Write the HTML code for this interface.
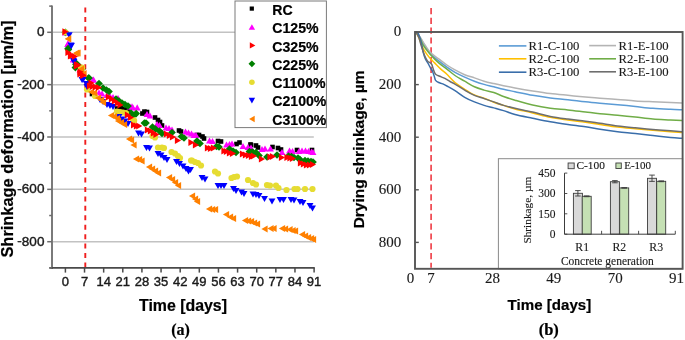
<!DOCTYPE html>
<html><head><meta charset="utf-8"><title>Shrinkage charts</title>
<style>
html,body{margin:0;padding:0;background:#fff;}
body{width:685px;height:340px;overflow:hidden;font-family:"Liberation Sans",sans-serif;}
svg{display:block;filter:blur(0.5px);}
text[font-family*="Sans"][fill="#1a1a1a"]{stroke:#1a1a1a;stroke-width:0.4px;}
text[font-family*="Serif"][fill="#1a1a1a"]{stroke:#1a1a1a;stroke-width:0.12px;}
text[fill="#000"]{stroke:#000;stroke-width:0.2px;}
</style></head><body>
<svg width="685" height="340" viewBox="0 0 685 340">
<rect width="685" height="340" fill="#fff"/>
<line x1="52.0" y1="32.30" x2="313.8" y2="32.30" stroke="#c2c2c2" stroke-width="1.5"/>
<line x1="52.0" y1="84.65" x2="313.8" y2="84.65" stroke="#c2c2c2" stroke-width="1.5"/>
<line x1="52.0" y1="137.00" x2="313.8" y2="137.00" stroke="#c2c2c2" stroke-width="1.5"/>
<line x1="52.0" y1="189.35" x2="313.8" y2="189.35" stroke="#c2c2c2" stroke-width="1.5"/>
<line x1="52.0" y1="241.70" x2="313.8" y2="241.70" stroke="#c2c2c2" stroke-width="1.5"/>
<line x1="85.3" y1="7.6" x2="85.3" y2="267.9" stroke="#f01e1e" stroke-width="1.9" stroke-dasharray="5 4.44"/>
<rect x="89.70" y="91.70" width="4.6" height="4.6" fill="#000000"/>
<rect x="114.70" y="106.20" width="4.6" height="4.6" fill="#000000"/>
<rect x="118.70" y="105.70" width="4.6" height="4.6" fill="#000000"/>
<rect x="121.70" y="106.70" width="4.6" height="4.6" fill="#000000"/>
<rect x="125.70" y="107.70" width="4.6" height="4.6" fill="#000000"/>
<rect x="140.10" y="111.20" width="4.6" height="4.6" fill="#000000"/>
<rect x="142.10" y="109.30" width="4.6" height="4.6" fill="#000000"/>
<rect x="144.70" y="109.70" width="4.6" height="4.6" fill="#000000"/>
<rect x="152.70" y="115.20" width="4.6" height="4.6" fill="#000000"/>
<rect x="155.70" y="117.70" width="4.6" height="4.6" fill="#000000"/>
<rect x="157.70" y="119.70" width="4.6" height="4.6" fill="#000000"/>
<rect x="159.70" y="123.20" width="4.6" height="4.6" fill="#000000"/>
<rect x="176.70" y="128.20" width="4.6" height="4.6" fill="#000000"/>
<rect x="178.70" y="129.20" width="4.6" height="4.6" fill="#000000"/>
<rect x="194.70" y="132.70" width="4.6" height="4.6" fill="#000000"/>
<rect x="196.70" y="132.70" width="4.6" height="4.6" fill="#000000"/>
<rect x="200.20" y="134.20" width="4.6" height="4.6" fill="#000000"/>
<rect x="201.70" y="136.20" width="4.6" height="4.6" fill="#000000"/>
<rect x="215.70" y="138.70" width="4.6" height="4.6" fill="#000000"/>
<rect x="218.70" y="139.20" width="4.6" height="4.6" fill="#000000"/>
<rect x="234.20" y="141.70" width="4.6" height="4.6" fill="#000000"/>
<rect x="237.20" y="140.20" width="4.6" height="4.6" fill="#000000"/>
<rect x="248.20" y="142.20" width="4.6" height="4.6" fill="#000000"/>
<rect x="248.70" y="142.70" width="4.6" height="4.6" fill="#000000"/>
<rect x="253.70" y="143.20" width="4.6" height="4.6" fill="#000000"/>
<rect x="255.70" y="145.20" width="4.6" height="4.6" fill="#000000"/>
<rect x="270.20" y="144.70" width="4.6" height="4.6" fill="#000000"/>
<rect x="275.70" y="145.70" width="4.6" height="4.6" fill="#000000"/>
<rect x="278.70" y="147.20" width="4.6" height="4.6" fill="#000000"/>
<rect x="294.70" y="147.70" width="4.6" height="4.6" fill="#000000"/>
<rect x="309.70" y="147.70" width="4.6" height="4.6" fill="#000000"/>
<path d="M61.95 35.40L68.85 35.40L65.40 29.20Z" fill="#ff00ff"/>
<path d="M64.65 46.50L71.55 46.50L68.10 40.30Z" fill="#ff00ff"/>
<path d="M70.05 62.10L76.95 62.10L73.50 55.90Z" fill="#ff00ff"/>
<path d="M77.05 72.10L83.95 72.10L80.50 65.90Z" fill="#ff00ff"/>
<path d="M90.05 82.60L96.95 82.60L93.50 76.40Z" fill="#ff00ff"/>
<path d="M95.55 95.60L102.45 95.60L99.00 89.40Z" fill="#ff00ff"/>
<path d="M98.55 96.60L105.45 96.60L102.00 90.40Z" fill="#ff00ff"/>
<path d="M103.55 98.10L110.45 98.10L107.00 91.90Z" fill="#ff00ff"/>
<path d="M106.55 99.10L113.45 99.10L110.00 92.90Z" fill="#ff00ff"/>
<path d="M109.55 100.10L116.45 100.10L113.00 93.90Z" fill="#ff00ff"/>
<path d="M114.55 101.10L121.45 101.10L118.00 94.90Z" fill="#ff00ff"/>
<path d="M126.55 109.60L133.45 109.60L130.00 103.40Z" fill="#ff00ff"/>
<path d="M129.55 110.60L136.45 110.60L133.00 104.40Z" fill="#ff00ff"/>
<path d="M128.55 109.40L135.45 109.40L132.00 103.20Z" fill="#ff00ff"/>
<path d="M133.75 110.50L140.65 110.50L137.20 104.30Z" fill="#ff00ff"/>
<path d="M143.55 117.10L150.45 117.10L147.00 110.90Z" fill="#ff00ff"/>
<path d="M146.55 118.60L153.45 118.60L150.00 112.40Z" fill="#ff00ff"/>
<path d="M153.55 127.10L160.45 127.10L157.00 120.90Z" fill="#ff00ff"/>
<path d="M156.05 128.10L162.95 128.10L159.50 121.90Z" fill="#ff00ff"/>
<path d="M162.55 130.60L169.45 130.60L166.00 124.40Z" fill="#ff00ff"/>
<path d="M165.55 131.10L172.45 131.10L169.00 124.90Z" fill="#ff00ff"/>
<path d="M168.55 132.60L175.45 132.60L172.00 126.40Z" fill="#ff00ff"/>
<path d="M182.05 134.60L188.95 134.60L185.50 128.40Z" fill="#ff00ff"/>
<path d="M185.05 135.60L191.95 135.60L188.50 129.40Z" fill="#ff00ff"/>
<path d="M188.05 136.60L194.95 136.60L191.50 130.40Z" fill="#ff00ff"/>
<path d="M190.55 138.10L197.45 138.10L194.00 131.90Z" fill="#ff00ff"/>
<path d="M192.55 138.10L199.45 138.10L196.00 131.90Z" fill="#ff00ff"/>
<path d="M206.05 143.60L212.95 143.60L209.50 137.40Z" fill="#ff00ff"/>
<path d="M209.05 144.10L215.95 144.10L212.50 137.90Z" fill="#ff00ff"/>
<path d="M223.05 147.60L229.95 147.60L226.50 141.40Z" fill="#ff00ff"/>
<path d="M226.05 147.10L232.95 147.10L229.50 140.90Z" fill="#ff00ff"/>
<path d="M228.55 146.60L235.45 146.60L232.00 140.40Z" fill="#ff00ff"/>
<path d="M239.55 149.10L246.45 149.10L243.00 142.90Z" fill="#ff00ff"/>
<path d="M244.55 150.10L251.45 150.10L248.00 143.90Z" fill="#ff00ff"/>
<path d="M247.55 150.60L254.45 150.60L251.00 144.40Z" fill="#ff00ff"/>
<path d="M258.55 152.10L265.45 152.10L262.00 145.90Z" fill="#ff00ff"/>
<path d="M261.55 151.60L268.45 151.60L265.00 145.40Z" fill="#ff00ff"/>
<path d="M267.05 151.60L273.95 151.60L270.50 145.40Z" fill="#ff00ff"/>
<path d="M278.55 155.10L285.45 155.10L282.00 148.90Z" fill="#ff00ff"/>
<path d="M286.05 153.60L292.95 153.60L289.50 147.40Z" fill="#ff00ff"/>
<path d="M289.05 154.10L295.95 154.10L292.50 147.90Z" fill="#ff00ff"/>
<path d="M295.55 154.10L302.45 154.10L299.00 147.90Z" fill="#ff00ff"/>
<path d="M298.55 153.60L305.45 153.60L302.00 147.40Z" fill="#ff00ff"/>
<path d="M302.05 153.60L308.95 153.60L305.50 147.40Z" fill="#ff00ff"/>
<path d="M305.05 154.10L311.95 154.10L308.50 147.90Z" fill="#ff00ff"/>
<path d="M308.05 154.60L314.95 154.60L311.50 148.40Z" fill="#ff00ff"/>
<path d="M309.55 155.10L316.45 155.10L313.00 148.90Z" fill="#ff00ff"/>
<path d="M70.05 62.60L76.95 62.60L73.50 56.40Z" fill="#ff00ff"/>
<path d="M76.55 72.60L83.45 72.60L80.00 66.40Z" fill="#ff00ff"/>
<path d="M89.55 82.60L96.45 82.60L93.00 76.40Z" fill="#ff00ff"/>
<path d="M64.25 46.90L71.15 46.90L67.70 40.70Z" fill="#ff00ff"/>
<path d="M65.40 28.45L69.25 32.30L65.40 36.15L61.55 32.30Z" fill="#008000"/>
<path d="M68.10 44.65L71.95 48.50L68.10 52.35L64.25 48.50Z" fill="#008000"/>
<path d="M75.40 63.75L79.25 67.60L75.40 71.45L71.55 67.60Z" fill="#008000"/>
<path d="M76.50 59.65L80.35 63.50L76.50 67.35L72.65 63.50Z" fill="#008000"/>
<path d="M82.00 65.15L85.85 69.00L82.00 72.85L78.15 69.00Z" fill="#008000"/>
<path d="M89.00 74.15L92.85 78.00L89.00 81.85L85.15 78.00Z" fill="#008000"/>
<path d="M99.00 79.65L102.85 83.50L99.00 87.35L95.15 83.50Z" fill="#008000"/>
<path d="M103.00 84.15L106.85 88.00L103.00 91.85L99.15 88.00Z" fill="#008000"/>
<path d="M106.50 86.15L110.35 90.00L106.50 93.85L102.65 90.00Z" fill="#008000"/>
<path d="M109.00 87.65L112.85 91.50L109.00 95.35L105.15 91.50Z" fill="#008000"/>
<path d="M116.00 95.15L119.85 99.00L116.00 102.85L112.15 99.00Z" fill="#008000"/>
<path d="M119.00 97.15L122.85 101.00L119.00 104.85L115.15 101.00Z" fill="#008000"/>
<path d="M122.00 99.15L125.85 103.00L122.00 106.85L118.15 103.00Z" fill="#008000"/>
<path d="M125.00 100.65L128.85 104.50L125.00 108.35L121.15 104.50Z" fill="#008000"/>
<path d="M128.00 102.15L131.85 106.00L128.00 109.85L124.15 106.00Z" fill="#008000"/>
<path d="M131.00 109.15L134.85 113.00L131.00 116.85L127.15 113.00Z" fill="#008000"/>
<path d="M134.00 111.15L137.85 115.00L134.00 118.85L130.15 115.00Z" fill="#008000"/>
<path d="M136.20 109.75L140.05 113.60L136.20 117.45L132.35 113.60Z" fill="#008000"/>
<path d="M144.40 119.15L148.25 123.00L144.40 126.85L140.55 123.00Z" fill="#008000"/>
<path d="M146.00 119.15L149.85 123.00L146.00 126.85L142.15 123.00Z" fill="#008000"/>
<path d="M152.50 123.15L156.35 127.00L152.50 130.85L148.65 127.00Z" fill="#008000"/>
<path d="M155.50 125.15L159.35 129.00L155.50 132.85L151.65 129.00Z" fill="#008000"/>
<path d="M159.50 127.15L163.35 131.00L159.50 134.85L155.65 131.00Z" fill="#008000"/>
<path d="M162.00 129.65L165.85 133.50L162.00 137.35L158.15 133.50Z" fill="#008000"/>
<path d="M172.00 128.65L175.85 132.50L172.00 136.35L168.15 132.50Z" fill="#008000"/>
<path d="M181.50 132.65L185.35 136.50L181.50 140.35L177.65 136.50Z" fill="#008000"/>
<path d="M184.00 134.15L187.85 138.00L184.00 141.85L180.15 138.00Z" fill="#008000"/>
<path d="M197.00 137.15L200.85 141.00L197.00 144.85L193.15 141.00Z" fill="#008000"/>
<path d="M198.00 138.65L201.85 142.50L198.00 146.35L194.15 142.50Z" fill="#008000"/>
<path d="M200.00 139.65L203.85 143.50L200.00 147.35L196.15 143.50Z" fill="#008000"/>
<path d="M216.50 142.65L220.35 146.50L216.50 150.35L212.65 146.50Z" fill="#008000"/>
<path d="M219.00 143.15L222.85 147.00L219.00 150.85L215.15 147.00Z" fill="#008000"/>
<path d="M229.50 145.15L233.35 149.00L229.50 152.85L225.65 149.00Z" fill="#008000"/>
<path d="M233.00 147.15L236.85 151.00L233.00 154.85L229.15 151.00Z" fill="#008000"/>
<path d="M236.00 148.65L239.85 152.50L236.00 156.35L232.15 152.50Z" fill="#008000"/>
<path d="M249.50 147.65L253.35 151.50L249.50 155.35L245.65 151.50Z" fill="#008000"/>
<path d="M252.00 148.15L255.85 152.00L252.00 155.85L248.15 152.00Z" fill="#008000"/>
<path d="M253.00 148.65L256.85 152.50L253.00 156.35L249.15 152.50Z" fill="#008000"/>
<path d="M256.00 148.65L259.85 152.50L256.00 156.35L252.15 152.50Z" fill="#008000"/>
<path d="M259.00 151.65L262.85 155.50L259.00 159.35L255.15 155.50Z" fill="#008000"/>
<path d="M267.00 153.15L270.85 157.00L267.00 160.85L263.15 157.00Z" fill="#008000"/>
<path d="M277.00 151.15L280.85 155.00L277.00 158.85L273.15 155.00Z" fill="#008000"/>
<path d="M288.50 152.15L292.35 156.00L288.50 159.85L284.65 156.00Z" fill="#008000"/>
<path d="M291.50 152.65L295.35 156.50L291.50 160.35L287.65 156.50Z" fill="#008000"/>
<path d="M294.00 153.65L297.85 157.50L294.00 161.35L290.15 157.50Z" fill="#008000"/>
<path d="M298.00 154.15L301.85 158.00L298.00 161.85L294.15 158.00Z" fill="#008000"/>
<path d="M300.00 155.65L303.85 159.50L300.00 163.35L296.15 159.50Z" fill="#008000"/>
<path d="M305.00 156.65L308.85 160.50L305.00 164.35L301.15 160.50Z" fill="#008000"/>
<path d="M308.00 157.15L311.85 161.00L308.00 164.85L304.15 161.00Z" fill="#008000"/>
<path d="M311.00 157.65L314.85 161.50L311.00 165.35L307.15 161.50Z" fill="#008000"/>
<path d="M313.00 158.15L316.85 162.00L313.00 165.85L309.15 162.00Z" fill="#008000"/>
<path d="M76.00 60.65L79.85 64.50L76.00 68.35L72.15 64.50Z" fill="#008000"/>
<path d="M80.00 63.15L83.85 67.00L80.00 70.85L76.15 67.00Z" fill="#008000"/>
<path d="M88.50 74.15L92.35 78.00L88.50 81.85L84.65 78.00Z" fill="#008000"/>
<path d="M68.40 45.75L72.25 49.60L68.40 53.45L64.55 49.60Z" fill="#008000"/>
<circle cx="65.40" cy="32.30" r="3.1" fill="#e6dc32"/>
<circle cx="81.00" cy="68.00" r="3.1" fill="#e6dc32"/>
<circle cx="82.00" cy="67.60" r="3.1" fill="#e6dc32"/>
<circle cx="87.00" cy="89.50" r="3.1" fill="#e6dc32"/>
<circle cx="95.00" cy="96.00" r="3.1" fill="#e6dc32"/>
<circle cx="117.00" cy="111.50" r="3.1" fill="#e6dc32"/>
<circle cx="120.00" cy="112.00" r="3.1" fill="#e6dc32"/>
<circle cx="123.00" cy="112.50" r="3.1" fill="#e6dc32"/>
<circle cx="126.00" cy="113.00" r="3.1" fill="#e6dc32"/>
<circle cx="133.00" cy="120.00" r="3.1" fill="#e6dc32"/>
<circle cx="134.10" cy="120.70" r="3.1" fill="#e6dc32"/>
<circle cx="152.50" cy="136.00" r="3.1" fill="#e6dc32"/>
<circle cx="155.00" cy="137.50" r="3.1" fill="#e6dc32"/>
<circle cx="158.00" cy="147.50" r="3.1" fill="#e6dc32"/>
<circle cx="162.00" cy="147.50" r="3.1" fill="#e6dc32"/>
<circle cx="164.00" cy="148.00" r="3.1" fill="#e6dc32"/>
<circle cx="171.50" cy="152.00" r="3.1" fill="#e6dc32"/>
<circle cx="175.00" cy="153.50" r="3.1" fill="#e6dc32"/>
<circle cx="178.00" cy="156.00" r="3.1" fill="#e6dc32"/>
<circle cx="180.00" cy="158.00" r="3.1" fill="#e6dc32"/>
<circle cx="191.00" cy="160.50" r="3.1" fill="#e6dc32"/>
<circle cx="192.00" cy="160.50" r="3.1" fill="#e6dc32"/>
<circle cx="195.00" cy="162.00" r="3.1" fill="#e6dc32"/>
<circle cx="198.00" cy="163.00" r="3.1" fill="#e6dc32"/>
<circle cx="201.00" cy="165.50" r="3.1" fill="#e6dc32"/>
<circle cx="215.00" cy="171.50" r="3.1" fill="#e6dc32"/>
<circle cx="218.00" cy="173.50" r="3.1" fill="#e6dc32"/>
<circle cx="231.50" cy="178.00" r="3.1" fill="#e6dc32"/>
<circle cx="234.00" cy="177.00" r="3.1" fill="#e6dc32"/>
<circle cx="237.00" cy="176.50" r="3.1" fill="#e6dc32"/>
<circle cx="248.00" cy="180.00" r="3.1" fill="#e6dc32"/>
<circle cx="253.00" cy="183.00" r="3.1" fill="#e6dc32"/>
<circle cx="256.00" cy="184.50" r="3.1" fill="#e6dc32"/>
<circle cx="267.00" cy="185.00" r="3.1" fill="#e6dc32"/>
<circle cx="270.00" cy="185.50" r="3.1" fill="#e6dc32"/>
<circle cx="276.00" cy="185.50" r="3.1" fill="#e6dc32"/>
<circle cx="278.50" cy="188.00" r="3.1" fill="#e6dc32"/>
<circle cx="286.50" cy="190.00" r="3.1" fill="#e6dc32"/>
<circle cx="294.50" cy="189.00" r="3.1" fill="#e6dc32"/>
<circle cx="297.50" cy="189.00" r="3.1" fill="#e6dc32"/>
<circle cx="305.00" cy="189.00" r="3.1" fill="#e6dc32"/>
<circle cx="312.50" cy="189.00" r="3.1" fill="#e6dc32"/>
<circle cx="82.00" cy="68.00" r="3.1" fill="#e6dc32"/>
<path d="M65.75 32.20L72.65 32.20L69.20 38.40Z" fill="#0000ff"/>
<path d="M67.55 42.50L74.45 42.50L71.00 48.70Z" fill="#0000ff"/>
<path d="M70.05 57.90L76.95 57.90L73.50 64.10Z" fill="#0000ff"/>
<path d="M78.55 76.90L85.45 76.90L82.00 83.10Z" fill="#0000ff"/>
<path d="M83.55 83.90L90.45 83.90L87.00 90.10Z" fill="#0000ff"/>
<path d="M96.55 96.90L103.45 96.90L100.00 103.10Z" fill="#0000ff"/>
<path d="M99.55 98.90L106.45 98.90L103.00 105.10Z" fill="#0000ff"/>
<path d="M103.55 101.90L110.45 101.90L107.00 108.10Z" fill="#0000ff"/>
<path d="M106.55 102.90L113.45 102.90L110.00 109.10Z" fill="#0000ff"/>
<path d="M109.55 103.90L116.45 103.90L113.00 110.10Z" fill="#0000ff"/>
<path d="M115.55 113.90L122.45 113.90L119.00 120.10Z" fill="#0000ff"/>
<path d="M118.55 116.40L125.45 116.40L122.00 122.60Z" fill="#0000ff"/>
<path d="M121.55 118.40L128.45 118.40L125.00 124.60Z" fill="#0000ff"/>
<path d="M124.55 120.90L131.45 120.90L128.00 127.10Z" fill="#0000ff"/>
<path d="M135.05 130.40L141.95 130.40L138.50 136.60Z" fill="#0000ff"/>
<path d="M138.05 131.40L144.95 131.40L141.50 137.60Z" fill="#0000ff"/>
<path d="M143.05 144.90L149.95 144.90L146.50 151.10Z" fill="#0000ff"/>
<path d="M146.05 145.40L152.95 145.40L149.50 151.60Z" fill="#0000ff"/>
<path d="M154.55 150.90L161.45 150.90L158.00 157.10Z" fill="#0000ff"/>
<path d="M157.55 152.40L164.45 152.40L161.00 158.60Z" fill="#0000ff"/>
<path d="M160.55 154.90L167.45 154.90L164.00 161.10Z" fill="#0000ff"/>
<path d="M163.55 156.90L170.45 156.90L167.00 163.10Z" fill="#0000ff"/>
<path d="M173.05 158.90L179.95 158.90L176.50 165.10Z" fill="#0000ff"/>
<path d="M176.05 160.90L182.95 160.90L179.50 167.10Z" fill="#0000ff"/>
<path d="M179.55 163.40L186.45 163.40L183.00 169.60Z" fill="#0000ff"/>
<path d="M182.55 165.90L189.45 165.90L186.00 172.10Z" fill="#0000ff"/>
<path d="M185.05 168.40L191.95 168.40L188.50 174.60Z" fill="#0000ff"/>
<path d="M187.05 166.90L193.95 166.90L190.50 173.10Z" fill="#0000ff"/>
<path d="M198.55 174.90L205.45 174.90L202.00 181.10Z" fill="#0000ff"/>
<path d="M201.55 176.40L208.45 176.40L205.00 182.60Z" fill="#0000ff"/>
<path d="M214.55 182.90L221.45 182.90L218.00 189.10Z" fill="#0000ff"/>
<path d="M217.55 182.90L224.45 182.90L221.00 189.10Z" fill="#0000ff"/>
<path d="M220.55 182.90L227.45 182.90L224.00 189.10Z" fill="#0000ff"/>
<path d="M230.05 185.90L236.95 185.90L233.50 192.10Z" fill="#0000ff"/>
<path d="M232.55 187.90L239.45 187.90L236.00 194.10Z" fill="#0000ff"/>
<path d="M238.05 189.40L244.95 189.40L241.50 195.60Z" fill="#0000ff"/>
<path d="M240.55 190.90L247.45 190.90L244.00 197.10Z" fill="#0000ff"/>
<path d="M249.55 191.40L256.45 191.40L253.00 197.60Z" fill="#0000ff"/>
<path d="M252.55 191.90L259.45 191.90L256.00 198.10Z" fill="#0000ff"/>
<path d="M255.55 192.90L262.45 192.90L259.00 199.10Z" fill="#0000ff"/>
<path d="M261.05 195.90L267.95 195.90L264.50 202.10Z" fill="#0000ff"/>
<path d="M268.55 198.40L275.45 198.40L272.00 204.60Z" fill="#0000ff"/>
<path d="M276.55 196.90L283.45 196.90L280.00 203.10Z" fill="#0000ff"/>
<path d="M280.05 196.90L286.95 196.90L283.50 203.10Z" fill="#0000ff"/>
<path d="M287.55 196.90L294.45 196.90L291.00 203.10Z" fill="#0000ff"/>
<path d="M290.55 197.40L297.45 197.40L294.00 203.60Z" fill="#0000ff"/>
<path d="M296.55 198.90L303.45 198.90L300.00 205.10Z" fill="#0000ff"/>
<path d="M299.55 199.90L306.45 199.90L303.00 206.10Z" fill="#0000ff"/>
<path d="M306.55 202.90L313.45 202.90L310.00 209.10Z" fill="#0000ff"/>
<path d="M309.05 205.40L315.95 205.40L312.50 211.60Z" fill="#0000ff"/>
<path d="M70.55 58.90L77.45 58.90L74.00 65.10Z" fill="#0000ff"/>
<path d="M79.55 76.90L86.45 76.90L83.00 83.10Z" fill="#0000ff"/>
<path d="M83.05 80.90L89.95 80.90L86.50 87.10Z" fill="#0000ff"/>
<path d="M67.95 42.90L74.85 42.90L71.40 49.10Z" fill="#0000ff"/>
<path d="M71.20 35.55L71.20 42.45L65.00 39.00Z" fill="#ff8000"/>
<path d="M79.30 49.45L79.30 56.35L73.10 52.90Z" fill="#ff8000"/>
<path d="M80.60 49.55L80.60 56.45L74.40 53.00Z" fill="#ff8000"/>
<path d="M86.60 70.05L86.60 76.95L80.40 73.50Z" fill="#ff8000"/>
<path d="M94.10 88.55L94.10 95.45L87.90 92.00Z" fill="#ff8000"/>
<path d="M97.10 89.55L97.10 96.45L90.90 93.00Z" fill="#ff8000"/>
<path d="M101.10 94.55L101.10 101.45L94.90 98.00Z" fill="#ff8000"/>
<path d="M104.10 96.55L104.10 103.45L97.90 100.00Z" fill="#ff8000"/>
<path d="M106.10 99.05L106.10 105.95L99.90 102.50Z" fill="#ff8000"/>
<path d="M114.10 112.05L114.10 118.95L107.90 115.50Z" fill="#ff8000"/>
<path d="M117.10 113.05L117.10 119.95L110.90 116.50Z" fill="#ff8000"/>
<path d="M120.10 115.05L120.10 121.95L113.90 118.50Z" fill="#ff8000"/>
<path d="M121.10 117.55L121.10 124.45L114.90 121.00Z" fill="#ff8000"/>
<path d="M124.10 119.05L124.10 125.95L117.90 122.50Z" fill="#ff8000"/>
<path d="M127.10 121.05L127.10 127.95L120.90 124.50Z" fill="#ff8000"/>
<path d="M132.10 135.55L132.10 142.45L125.90 139.00Z" fill="#ff8000"/>
<path d="M134.10 136.55L134.10 143.45L127.90 140.00Z" fill="#ff8000"/>
<path d="M136.60 141.55L136.60 148.45L130.40 145.00Z" fill="#ff8000"/>
<path d="M139.10 155.55L139.10 162.45L132.90 159.00Z" fill="#ff8000"/>
<path d="M142.10 156.05L142.10 162.95L135.90 159.50Z" fill="#ff8000"/>
<path d="M144.60 157.55L144.60 164.45L138.40 161.00Z" fill="#ff8000"/>
<path d="M152.10 163.55L152.10 170.45L145.90 167.00Z" fill="#ff8000"/>
<path d="M155.10 165.55L155.10 172.45L148.90 169.00Z" fill="#ff8000"/>
<path d="M158.10 167.55L158.10 174.45L151.90 171.00Z" fill="#ff8000"/>
<path d="M161.10 169.55L161.10 176.45L154.90 173.00Z" fill="#ff8000"/>
<path d="M172.10 174.05L172.10 180.95L165.90 177.50Z" fill="#ff8000"/>
<path d="M175.10 176.05L175.10 182.95L168.90 179.50Z" fill="#ff8000"/>
<path d="M178.10 179.05L178.10 185.95L171.90 182.50Z" fill="#ff8000"/>
<path d="M181.10 182.05L181.10 188.95L174.90 185.50Z" fill="#ff8000"/>
<path d="M195.10 192.55L195.10 199.45L188.90 196.00Z" fill="#ff8000"/>
<path d="M198.10 195.55L198.10 202.45L191.90 199.00Z" fill="#ff8000"/>
<path d="M200.10 198.05L200.10 204.95L193.90 201.50Z" fill="#ff8000"/>
<path d="M212.10 205.55L212.10 212.45L205.90 209.00Z" fill="#ff8000"/>
<path d="M215.10 206.05L215.10 212.95L208.90 209.50Z" fill="#ff8000"/>
<path d="M218.10 206.05L218.10 212.95L211.90 209.50Z" fill="#ff8000"/>
<path d="M229.10 211.05L229.10 217.95L222.90 214.50Z" fill="#ff8000"/>
<path d="M233.10 213.55L233.10 220.45L226.90 217.00Z" fill="#ff8000"/>
<path d="M236.10 215.05L236.10 221.95L229.90 218.50Z" fill="#ff8000"/>
<path d="M248.10 217.05L248.10 223.95L241.90 220.50Z" fill="#ff8000"/>
<path d="M251.10 217.55L251.10 224.45L244.90 221.00Z" fill="#ff8000"/>
<path d="M254.10 218.05L254.10 224.95L247.90 221.50Z" fill="#ff8000"/>
<path d="M257.10 219.55L257.10 226.45L250.90 223.00Z" fill="#ff8000"/>
<path d="M260.10 220.55L260.10 227.45L253.90 224.00Z" fill="#ff8000"/>
<path d="M267.60 225.55L267.60 232.45L261.40 229.00Z" fill="#ff8000"/>
<path d="M273.60 225.05L273.60 231.95L267.40 228.50Z" fill="#ff8000"/>
<path d="M276.60 225.05L276.60 231.95L270.40 228.50Z" fill="#ff8000"/>
<path d="M285.10 225.05L285.10 231.95L278.90 228.50Z" fill="#ff8000"/>
<path d="M288.10 225.55L288.10 232.45L281.90 229.00Z" fill="#ff8000"/>
<path d="M292.60 226.05L292.60 232.95L286.40 229.50Z" fill="#ff8000"/>
<path d="M295.60 227.05L295.60 233.95L289.40 230.50Z" fill="#ff8000"/>
<path d="M298.10 227.55L298.10 234.45L291.90 231.00Z" fill="#ff8000"/>
<path d="M305.10 231.05L305.10 237.95L298.90 234.50Z" fill="#ff8000"/>
<path d="M308.10 232.55L308.10 239.45L301.90 236.00Z" fill="#ff8000"/>
<path d="M311.10 234.05L311.10 240.95L304.90 237.50Z" fill="#ff8000"/>
<path d="M314.10 235.05L314.10 241.95L307.90 238.50Z" fill="#ff8000"/>
<path d="M316.10 236.05L316.10 242.95L309.90 239.50Z" fill="#ff8000"/>
<path d="M84.10 65.55L84.10 72.45L77.90 69.00Z" fill="#ff8000"/>
<path d="M79.30 50.15L79.30 57.05L73.10 53.60Z" fill="#ff8000"/>
<path d="M71.10 35.35L71.10 42.25L64.90 38.80Z" fill="#ff8000"/>
<path d="M69.40 52.05L69.40 58.95L75.60 55.50Z" fill="#ff0000"/>
<path d="M73.80 61.25L73.80 68.15L80.00 64.70Z" fill="#ff0000"/>
<path d="M75.40 61.55L75.40 68.45L81.60 65.00Z" fill="#ff0000"/>
<path d="M77.50 68.55L77.50 75.45L83.70 72.00Z" fill="#ff0000"/>
<path d="M79.90 71.55L79.90 78.45L86.10 75.00Z" fill="#ff0000"/>
<path d="M86.90 82.55L86.90 89.45L93.10 86.00Z" fill="#ff0000"/>
<path d="M89.90 83.05L89.90 89.95L96.10 86.50Z" fill="#ff0000"/>
<path d="M92.90 83.55L92.90 90.45L99.10 87.00Z" fill="#ff0000"/>
<path d="M95.90 84.05L95.90 90.95L102.10 87.50Z" fill="#ff0000"/>
<path d="M105.90 93.55L105.90 100.45L112.10 97.00Z" fill="#ff0000"/>
<path d="M108.90 95.55L108.90 102.45L115.10 99.00Z" fill="#ff0000"/>
<path d="M111.90 97.55L111.90 104.45L118.10 101.00Z" fill="#ff0000"/>
<path d="M114.90 99.55L114.90 106.45L121.10 103.00Z" fill="#ff0000"/>
<path d="M117.40 101.55L117.40 108.45L123.60 105.00Z" fill="#ff0000"/>
<path d="M124.90 111.55L124.90 118.45L131.10 115.00Z" fill="#ff0000"/>
<path d="M127.90 114.05L127.90 120.95L134.10 117.50Z" fill="#ff0000"/>
<path d="M131.00 121.55L131.00 128.45L137.20 125.00Z" fill="#ff0000"/>
<path d="M133.90 122.55L133.90 129.45L140.10 126.00Z" fill="#ff0000"/>
<path d="M136.20 122.55L136.20 129.45L142.40 126.00Z" fill="#ff0000"/>
<path d="M144.90 126.55L144.90 133.45L151.10 130.00Z" fill="#ff0000"/>
<path d="M147.90 127.55L147.90 134.45L154.10 131.00Z" fill="#ff0000"/>
<path d="M150.90 129.55L150.90 136.45L157.10 133.00Z" fill="#ff0000"/>
<path d="M153.40 131.05L153.40 137.95L159.60 134.50Z" fill="#ff0000"/>
<path d="M163.90 130.55L163.90 137.45L170.10 134.00Z" fill="#ff0000"/>
<path d="M166.90 132.05L166.90 138.95L173.10 135.50Z" fill="#ff0000"/>
<path d="M169.90 133.55L169.90 140.45L176.10 137.00Z" fill="#ff0000"/>
<path d="M174.90 137.05L174.90 143.95L181.10 140.50Z" fill="#ff0000"/>
<path d="M188.40 139.05L188.40 145.95L194.60 142.50Z" fill="#ff0000"/>
<path d="M192.90 141.55L192.90 148.45L199.10 145.00Z" fill="#ff0000"/>
<path d="M204.90 144.55L204.90 151.45L211.10 148.00Z" fill="#ff0000"/>
<path d="M207.90 145.05L207.90 151.95L214.10 148.50Z" fill="#ff0000"/>
<path d="M210.90 144.55L210.90 151.45L217.10 148.00Z" fill="#ff0000"/>
<path d="M221.40 147.55L221.40 154.45L227.60 151.00Z" fill="#ff0000"/>
<path d="M223.90 148.05L223.90 154.95L230.10 151.50Z" fill="#ff0000"/>
<path d="M226.90 149.55L226.90 156.45L233.10 153.00Z" fill="#ff0000"/>
<path d="M229.90 150.05L229.90 156.95L236.10 153.50Z" fill="#ff0000"/>
<path d="M239.90 150.55L239.90 157.45L246.10 154.00Z" fill="#ff0000"/>
<path d="M242.90 151.55L242.90 158.45L249.10 155.00Z" fill="#ff0000"/>
<path d="M245.90 152.05L245.90 158.95L252.10 155.50Z" fill="#ff0000"/>
<path d="M248.90 153.05L248.90 159.95L255.10 156.50Z" fill="#ff0000"/>
<path d="M250.90 152.55L250.90 159.45L257.10 156.00Z" fill="#ff0000"/>
<path d="M258.90 155.55L258.90 162.45L265.10 159.00Z" fill="#ff0000"/>
<path d="M267.40 153.55L267.40 160.45L273.60 157.00Z" fill="#ff0000"/>
<path d="M269.90 153.05L269.90 159.95L276.10 156.50Z" fill="#ff0000"/>
<path d="M278.90 154.05L278.90 160.95L285.10 157.50Z" fill="#ff0000"/>
<path d="M284.40 154.05L284.40 160.95L290.60 157.50Z" fill="#ff0000"/>
<path d="M287.40 154.55L287.40 161.45L293.60 158.00Z" fill="#ff0000"/>
<path d="M289.90 155.05L289.90 161.95L296.10 158.50Z" fill="#ff0000"/>
<path d="M297.90 159.55L297.90 166.45L304.10 163.00Z" fill="#ff0000"/>
<path d="M300.90 160.55L300.90 167.45L307.10 164.00Z" fill="#ff0000"/>
<path d="M303.90 161.55L303.90 168.45L310.10 165.00Z" fill="#ff0000"/>
<path d="M306.90 161.55L306.90 168.45L313.10 165.00Z" fill="#ff0000"/>
<path d="M309.90 161.05L309.90 167.95L316.10 164.50Z" fill="#ff0000"/>
<path d="M62.40 28.35L62.40 35.25L68.60 31.80Z" fill="#ff0000"/>
<path d="M67.90 52.55L67.90 59.45L74.10 56.00Z" fill="#ff0000"/>
<path d="M71.90 53.05L71.90 59.95L78.10 56.50Z" fill="#ff0000"/>
<path d="M73.90 62.55L73.90 69.45L80.10 66.00Z" fill="#ff0000"/>
<path d="M77.40 70.55L77.40 77.45L83.60 74.00Z" fill="#ff0000"/>
<path d="M80.40 72.05L80.40 78.95L86.60 75.50Z" fill="#ff0000"/>
<path d="M88.40 79.55L88.40 86.45L94.60 83.00Z" fill="#ff0000"/>
<path d="M65.40 49.05L65.40 55.95L71.60 52.50Z" fill="#ff0000"/>
<line x1="52.0" y1="5.6" x2="52.0" y2="268.9" stroke="#7a7a7a" stroke-width="2"/>
<line x1="49.4" y1="267.9" x2="314.8" y2="267.9" stroke="#4a4a4a" stroke-width="1.8"/>
<line x1="49.2" y1="6.12" x2="52.0" y2="6.12" stroke="#6c6c6c" stroke-width="1.5"/>
<line x1="47.2" y1="32.30" x2="52.0" y2="32.30" stroke="#6c6c6c" stroke-width="1.5"/>
<line x1="49.2" y1="58.47" x2="52.0" y2="58.47" stroke="#6c6c6c" stroke-width="1.5"/>
<line x1="47.2" y1="84.65" x2="52.0" y2="84.65" stroke="#6c6c6c" stroke-width="1.5"/>
<line x1="49.2" y1="110.82" x2="52.0" y2="110.82" stroke="#6c6c6c" stroke-width="1.5"/>
<line x1="47.2" y1="137.00" x2="52.0" y2="137.00" stroke="#6c6c6c" stroke-width="1.5"/>
<line x1="49.2" y1="163.18" x2="52.0" y2="163.18" stroke="#6c6c6c" stroke-width="1.5"/>
<line x1="47.2" y1="189.35" x2="52.0" y2="189.35" stroke="#6c6c6c" stroke-width="1.5"/>
<line x1="49.2" y1="215.52" x2="52.0" y2="215.52" stroke="#6c6c6c" stroke-width="1.5"/>
<line x1="47.2" y1="241.70" x2="52.0" y2="241.70" stroke="#6c6c6c" stroke-width="1.5"/>
<line x1="49.2" y1="267.88" x2="52.0" y2="267.88" stroke="#6c6c6c" stroke-width="1.5"/>
<line x1="65.40" y1="267.9" x2="65.40" y2="272.6" stroke="#4a4a4a" stroke-width="1.5"/>
<line x1="84.53" y1="267.9" x2="84.53" y2="272.6" stroke="#4a4a4a" stroke-width="1.5"/>
<line x1="103.66" y1="267.9" x2="103.66" y2="272.6" stroke="#4a4a4a" stroke-width="1.5"/>
<line x1="122.79" y1="267.9" x2="122.79" y2="272.6" stroke="#4a4a4a" stroke-width="1.5"/>
<line x1="141.92" y1="267.9" x2="141.92" y2="272.6" stroke="#4a4a4a" stroke-width="1.5"/>
<line x1="161.06" y1="267.9" x2="161.06" y2="272.6" stroke="#4a4a4a" stroke-width="1.5"/>
<line x1="180.19" y1="267.9" x2="180.19" y2="272.6" stroke="#4a4a4a" stroke-width="1.5"/>
<line x1="199.32" y1="267.9" x2="199.32" y2="272.6" stroke="#4a4a4a" stroke-width="1.5"/>
<line x1="218.45" y1="267.9" x2="218.45" y2="272.6" stroke="#4a4a4a" stroke-width="1.5"/>
<line x1="237.58" y1="267.9" x2="237.58" y2="272.6" stroke="#4a4a4a" stroke-width="1.5"/>
<line x1="256.71" y1="267.9" x2="256.71" y2="272.6" stroke="#4a4a4a" stroke-width="1.5"/>
<line x1="275.84" y1="267.9" x2="275.84" y2="272.6" stroke="#4a4a4a" stroke-width="1.5"/>
<line x1="294.97" y1="267.9" x2="294.97" y2="272.6" stroke="#4a4a4a" stroke-width="1.5"/>
<line x1="314.10" y1="267.9" x2="314.10" y2="272.6" stroke="#4a4a4a" stroke-width="1.5"/>
<text x="44.4" y="36.20" text-anchor="end" font-family="'Liberation Sans', sans-serif" font-size="13.5" fill="#1a1a1a">0</text>
<text x="44.4" y="88.55" text-anchor="end" font-family="'Liberation Sans', sans-serif" font-size="13.5" fill="#1a1a1a"><tspan dy="-0.4">-</tspan><tspan dy="0.4">200</tspan></text>
<text x="44.4" y="140.90" text-anchor="end" font-family="'Liberation Sans', sans-serif" font-size="13.5" fill="#1a1a1a"><tspan dy="-0.4">-</tspan><tspan dy="0.4">400</tspan></text>
<text x="44.4" y="193.25" text-anchor="end" font-family="'Liberation Sans', sans-serif" font-size="13.5" fill="#1a1a1a"><tspan dy="-0.4">-</tspan><tspan dy="0.4">600</tspan></text>
<text x="44.4" y="245.60" text-anchor="end" font-family="'Liberation Sans', sans-serif" font-size="13.5" fill="#1a1a1a"><tspan dy="-0.4">-</tspan><tspan dy="0.4">800</tspan></text>
<text x="65.40" y="285.7" text-anchor="middle" font-family="'Liberation Sans', sans-serif" font-size="13" fill="#1a1a1a">0</text>
<text x="84.53" y="285.7" text-anchor="middle" font-family="'Liberation Sans', sans-serif" font-size="13" fill="#1a1a1a">7</text>
<text x="103.66" y="285.7" text-anchor="middle" font-family="'Liberation Sans', sans-serif" font-size="13" fill="#1a1a1a">14</text>
<text x="122.79" y="285.7" text-anchor="middle" font-family="'Liberation Sans', sans-serif" font-size="13" fill="#1a1a1a">21</text>
<text x="141.92" y="285.7" text-anchor="middle" font-family="'Liberation Sans', sans-serif" font-size="13" fill="#1a1a1a">28</text>
<text x="161.06" y="285.7" text-anchor="middle" font-family="'Liberation Sans', sans-serif" font-size="13" fill="#1a1a1a">35</text>
<text x="180.19" y="285.7" text-anchor="middle" font-family="'Liberation Sans', sans-serif" font-size="13" fill="#1a1a1a">42</text>
<text x="199.32" y="285.7" text-anchor="middle" font-family="'Liberation Sans', sans-serif" font-size="13" fill="#1a1a1a">49</text>
<text x="218.45" y="285.7" text-anchor="middle" font-family="'Liberation Sans', sans-serif" font-size="13" fill="#1a1a1a">56</text>
<text x="237.58" y="285.7" text-anchor="middle" font-family="'Liberation Sans', sans-serif" font-size="13" fill="#1a1a1a">63</text>
<text x="256.71" y="285.7" text-anchor="middle" font-family="'Liberation Sans', sans-serif" font-size="13" fill="#1a1a1a">70</text>
<text x="275.84" y="285.7" text-anchor="middle" font-family="'Liberation Sans', sans-serif" font-size="13" fill="#1a1a1a">77</text>
<text x="294.97" y="285.7" text-anchor="middle" font-family="'Liberation Sans', sans-serif" font-size="13" fill="#1a1a1a">84</text>
<text x="314.10" y="285.7" text-anchor="middle" font-family="'Liberation Sans', sans-serif" font-size="13" fill="#1a1a1a">91</text>
<text transform="translate(13.2,139) rotate(-90)" text-anchor="middle" font-family="'Liberation Sans', sans-serif" font-weight="bold" font-size="16.4" fill="#000">Shrinkage deformation [µm/m]</text>
<text x="183" y="310.8" text-anchor="middle" font-family="'Liberation Sans', sans-serif" font-weight="bold" font-size="15.9" fill="#000">Time [days]</text>
<text x="180.5" y="335.3" text-anchor="middle" font-family="'Liberation Serif', serif" font-weight="bold" font-size="16" fill="#000">(a)</text>
<rect x="235.0" y="1" width="91.4" height="126.6" fill="#fff" stroke="#7a7a7a" stroke-width="1"/>
<rect x="249.70" y="6.50" width="4.2" height="4.2" fill="#000000"/>
<text x="272.3" y="15.00" font-family="'Liberation Sans', sans-serif" font-weight="bold" font-size="14.1" fill="#000">RC</text>
<path d="M248.70 29.80L255.10 29.80L251.90 24.20Z" fill="#ff00ff"/>
<text x="272.3" y="33.25" font-family="'Liberation Sans', sans-serif" font-weight="bold" font-size="14.1" fill="#000">C125%</text>
<path d="M249.80 42.20L249.80 48.60L255.40 45.40Z" fill="#ff0000"/>
<text x="272.3" y="51.50" font-family="'Liberation Sans', sans-serif" font-weight="bold" font-size="14.1" fill="#000">C325%</text>
<path d="M251.90 60.40L255.30 63.80L251.90 67.20L248.50 63.80Z" fill="#008000"/>
<text x="272.3" y="69.75" font-family="'Liberation Sans', sans-serif" font-weight="bold" font-size="14.1" fill="#000">C225%</text>
<circle cx="251.90" cy="82.20" r="2.8" fill="#e6dc32"/>
<text x="272.3" y="88.00" font-family="'Liberation Sans', sans-serif" font-weight="bold" font-size="14.1" fill="#000">C1100%</text>
<path d="M248.70 97.80L255.10 97.80L251.90 103.40Z" fill="#0000ff"/>
<text x="272.3" y="106.25" font-family="'Liberation Sans', sans-serif" font-weight="bold" font-size="14.1" fill="#000">C2100%</text>
<path d="M254.70 115.80L254.70 122.20L249.10 119.00Z" fill="#ff8000"/>
<text x="272.3" y="124.50" font-family="'Liberation Sans', sans-serif" font-weight="bold" font-size="14.1" fill="#000">C3100%</text>
<line x1="431.1" y1="8" x2="431.1" y2="267.8" stroke="#f0464e" stroke-width="1.7" stroke-dasharray="6.2 3.6"/>
<path d="M416.00 32.00 C416.67 32.92 418.50 35.17 420.00 37.50 C421.50 39.83 423.25 43.30 425.00 46.00 C426.75 48.70 428.22 51.22 430.50 53.70 C432.78 56.18 435.97 58.67 438.70 60.90 C441.43 63.13 444.18 65.20 446.90 67.10 C449.62 69.00 452.03 70.63 455.00 72.30 C457.97 73.97 461.47 75.62 464.70 77.10 C467.93 78.58 471.17 79.98 474.40 81.20 C477.63 82.42 480.87 83.47 484.10 84.40 C487.33 85.33 490.57 85.98 493.80 86.80 C497.03 87.62 499.97 88.48 503.50 89.30 C507.03 90.12 510.15 90.70 515.00 91.70 C519.85 92.70 526.72 94.27 532.60 95.30 C538.48 96.33 544.42 97.17 550.30 97.90 C556.18 98.63 562.03 99.05 567.90 99.70 C573.77 100.35 580.15 101.22 585.50 101.80 C590.85 102.38 594.65 102.72 600.00 103.20 C605.35 103.68 611.72 104.15 617.60 104.70 C623.48 105.25 629.42 105.90 635.30 106.50 C641.18 107.10 647.03 107.83 652.90 108.30 C658.77 108.77 665.65 109.07 670.50 109.30 C675.35 109.53 680.08 109.63 682.00 109.70" fill="none" stroke="#5b9bd5" stroke-width="1.5" stroke-linejoin="round" stroke-linecap="round"/>
<path d="M416.00 32.00 C416.67 32.83 418.50 34.83 420.00 37.00 C421.50 39.17 423.25 42.40 425.00 45.00 C426.75 47.60 428.22 50.30 430.50 52.60 C432.78 54.90 435.97 56.73 438.70 58.80 C441.43 60.87 444.18 63.15 446.90 65.00 C449.62 66.85 452.03 68.28 455.00 69.90 C457.97 71.52 461.47 73.37 464.70 74.70 C467.93 76.03 471.17 76.82 474.40 77.90 C477.63 78.98 480.87 80.25 484.10 81.20 C487.33 82.15 490.57 82.85 493.80 83.60 C497.03 84.35 499.97 84.98 503.50 85.70 C507.03 86.42 510.15 87.03 515.00 87.90 C519.85 88.77 526.72 89.97 532.60 90.90 C538.48 91.83 544.42 92.77 550.30 93.50 C556.18 94.23 562.03 94.72 567.90 95.30 C573.77 95.88 580.15 96.50 585.50 97.00 C590.85 97.50 594.65 97.88 600.00 98.30 C605.35 98.72 611.72 99.07 617.60 99.50 C623.48 99.93 629.42 100.52 635.30 100.90 C641.18 101.28 647.03 101.52 652.90 101.80 C658.77 102.08 665.65 102.40 670.50 102.60 C675.35 102.80 680.08 102.93 682.00 103.00" fill="none" stroke="#b4b4b4" stroke-width="1.5" stroke-linejoin="round" stroke-linecap="round"/>
<path d="M416.00 32.00 C416.50 33.00 417.97 35.58 419.00 38.00 C420.03 40.42 420.97 43.88 422.20 46.50 C423.43 49.12 425.02 51.65 426.40 53.70 C427.78 55.75 429.13 57.27 430.50 58.80 C431.87 60.33 432.88 61.18 434.60 62.90 C436.32 64.62 438.75 67.20 440.80 69.10 C442.85 71.00 444.53 72.07 446.90 74.30 C449.27 76.53 452.03 80.00 455.00 82.50 C457.97 85.00 461.47 87.23 464.70 89.30 C467.93 91.37 471.17 93.42 474.40 94.90 C477.63 96.38 480.87 96.98 484.10 98.20 C487.33 99.42 490.57 101.00 493.80 102.20 C497.03 103.40 499.97 104.28 503.50 105.40 C507.03 106.52 510.15 107.65 515.00 108.90 C519.85 110.15 526.72 111.50 532.60 112.90 C538.48 114.30 544.42 116.12 550.30 117.30 C556.18 118.48 562.03 119.17 567.90 120.00 C573.77 120.83 580.15 121.55 585.50 122.30 C590.85 123.05 594.65 123.72 600.00 124.50 C605.35 125.28 611.72 126.30 617.60 127.00 C623.48 127.70 629.42 128.15 635.30 128.70 C641.18 129.25 647.03 129.80 652.90 130.30 C658.77 130.80 665.65 131.32 670.50 131.70 C675.35 132.08 680.08 132.45 682.00 132.60" fill="none" stroke="#ffc000" stroke-width="1.5" stroke-linejoin="round" stroke-linecap="round"/>
<path d="M416.00 32.00 C416.67 33.00 418.78 35.77 420.00 38.00 C421.22 40.23 421.55 42.62 423.30 45.40 C425.05 48.18 427.93 51.78 430.50 54.70 C433.07 57.62 435.97 60.50 438.70 62.90 C441.43 65.30 444.18 67.00 446.90 69.10 C449.62 71.20 452.03 73.48 455.00 75.50 C457.97 77.52 461.47 79.32 464.70 81.20 C467.93 83.08 471.17 85.32 474.40 86.80 C477.63 88.28 480.87 89.15 484.10 90.10 C487.33 91.05 490.57 91.43 493.80 92.50 C497.03 93.57 499.97 95.22 503.50 96.50 C507.03 97.78 510.15 98.78 515.00 100.20 C519.85 101.62 526.72 103.67 532.60 105.00 C538.48 106.33 544.42 107.38 550.30 108.20 C556.18 109.02 562.03 109.27 567.90 109.90 C573.77 110.53 580.15 111.37 585.50 112.00 C590.85 112.63 594.65 113.15 600.00 113.70 C605.35 114.25 611.72 114.73 617.60 115.30 C623.48 115.87 629.42 116.48 635.30 117.10 C641.18 117.72 647.03 118.53 652.90 119.00 C658.77 119.47 665.65 119.63 670.50 119.90 C675.35 120.17 680.08 120.48 682.00 120.60" fill="none" stroke="#70ad47" stroke-width="1.5" stroke-linejoin="round" stroke-linecap="round"/>
<path d="M416.00 32.00 C416.35 32.18 417.23 31.37 418.10 33.10 C418.97 34.83 420.33 39.15 421.20 42.40 C422.07 45.65 422.62 49.87 423.30 52.60 C423.98 55.33 424.45 56.90 425.30 58.80 C426.15 60.70 427.53 62.45 428.40 64.00 C429.27 65.55 429.82 66.90 430.50 68.10 C431.18 69.30 431.82 69.65 432.50 71.20 C433.18 72.75 434.08 75.87 434.60 77.40 C435.12 78.93 434.92 79.55 435.60 80.40 C436.28 81.25 437.50 81.92 438.70 82.50 C439.90 83.08 441.25 83.22 442.80 83.90 C444.35 84.58 445.97 85.48 448.00 86.60 C450.03 87.72 452.22 88.82 455.00 90.60 C457.78 92.38 461.47 95.42 464.70 97.30 C467.93 99.18 471.17 100.55 474.40 101.90 C477.63 103.25 480.87 104.40 484.10 105.40 C487.33 106.40 490.57 107.03 493.80 107.90 C497.03 108.77 499.97 109.50 503.50 110.60 C507.03 111.70 510.15 113.23 515.00 114.50 C519.85 115.77 526.72 117.00 532.60 118.20 C538.48 119.40 544.42 120.67 550.30 121.70 C556.18 122.73 562.03 123.57 567.90 124.40 C573.77 125.23 580.15 125.88 585.50 126.70 C590.85 127.52 594.65 128.47 600.00 129.30 C605.35 130.13 611.72 131.00 617.60 131.70 C623.48 132.40 629.42 132.85 635.30 133.50 C641.18 134.15 647.03 134.95 652.90 135.60 C658.77 136.25 665.65 136.95 670.50 137.40 C675.35 137.85 680.08 138.15 682.00 138.30" fill="none" stroke="#3a6eaa" stroke-width="1.5" stroke-linejoin="round" stroke-linecap="round"/>
<path d="M416.00 32.00 C416.50 33.00 418.17 35.83 419.00 38.00 C419.83 40.17 420.12 42.22 421.00 45.00 C421.88 47.78 423.23 52.05 424.30 54.70 C425.37 57.35 426.20 59.35 427.40 60.90 C428.60 62.45 430.47 62.47 431.50 64.00 C432.53 65.53 432.92 68.38 433.60 70.10 C434.28 71.82 434.58 73.27 435.60 74.30 C436.62 75.33 438.15 75.62 439.70 76.30 C441.25 76.98 443.18 77.53 444.90 78.40 C446.62 79.27 448.32 80.55 450.00 81.50 C451.68 82.45 452.55 82.67 455.00 84.10 C457.45 85.53 461.47 88.22 464.70 90.10 C467.93 91.98 471.17 93.98 474.40 95.40 C477.63 96.82 480.87 97.52 484.10 98.60 C487.33 99.68 490.57 100.77 493.80 101.90 C497.03 103.03 499.97 104.33 503.50 105.40 C507.03 106.47 510.15 107.20 515.00 108.30 C519.85 109.40 526.72 110.65 532.60 112.00 C538.48 113.35 544.42 115.22 550.30 116.40 C556.18 117.58 562.03 118.30 567.90 119.10 C573.77 119.90 580.15 120.50 585.50 121.20 C590.85 121.90 594.65 122.52 600.00 123.30 C605.35 124.08 611.72 125.15 617.60 125.90 C623.48 126.65 629.42 127.22 635.30 127.80 C641.18 128.38 647.03 128.90 652.90 129.40 C658.77 129.90 665.65 130.42 670.50 130.80 C675.35 131.18 680.08 131.55 682.00 131.70" fill="none" stroke="#6e6e6e" stroke-width="1.5" stroke-linejoin="round" stroke-linecap="round"/>
<line x1="498.9" y1="45.9" x2="526.4" y2="45.9" stroke="#5b9bd5" stroke-width="1.6"/>
<text x="528.6" y="49.9" font-family="'Liberation Serif', serif" font-size="12.7" fill="#1a1a1a">R1-C-100</text>
<line x1="498.9" y1="58.8" x2="526.4" y2="58.8" stroke="#ffc000" stroke-width="1.6"/>
<text x="528.6" y="62.8" font-family="'Liberation Serif', serif" font-size="12.7" fill="#1a1a1a">R2-C-100</text>
<line x1="498.9" y1="72.2" x2="526.4" y2="72.2" stroke="#3a6eaa" stroke-width="1.6"/>
<text x="528.6" y="76.2" font-family="'Liberation Serif', serif" font-size="12.7" fill="#1a1a1a">R3-C-100</text>
<line x1="589.2" y1="45.6" x2="616" y2="45.6" stroke="#b4b4b4" stroke-width="1.6"/>
<text x="618.6" y="49.6" font-family="'Liberation Serif', serif" font-size="12.7" fill="#1a1a1a">R1-E-100</text>
<line x1="589.2" y1="58.8" x2="616" y2="58.8" stroke="#70ad47" stroke-width="1.6"/>
<text x="618.6" y="62.8" font-family="'Liberation Serif', serif" font-size="12.7" fill="#1a1a1a">R2-E-100</text>
<line x1="589.2" y1="71.8" x2="616" y2="71.8" stroke="#6e6e6e" stroke-width="1.6"/>
<text x="618.6" y="75.8" font-family="'Liberation Serif', serif" font-size="12.7" fill="#1a1a1a">R3-E-100</text>
<rect x="498.4" y="158.7" width="184.2" height="110.1" fill="#fff" stroke="#8a8a8a" stroke-width="1"/>
<rect x="573.4" y="193.3" width="9" height="40.9" fill="#d9d9d9" stroke="#3c3c3c" stroke-width="0.9"/>
<path d="M577.9 190.6V196.0M575.1 190.6H580.7M575.1 196.0H580.7" stroke="#3c3c3c" stroke-width="0.9" fill="none"/>
<rect x="582.2" y="196.3" width="9" height="37.9" fill="#c5e0b4" stroke="#3c3c3c" stroke-width="0.9"/>
<path d="M586.7 195.9V196.7M583.9 195.9H589.5M583.9 196.7H589.5" stroke="#3c3c3c" stroke-width="0.9" fill="none"/>
<rect x="610.4" y="181.7" width="9" height="52.5" fill="#d9d9d9" stroke="#3c3c3c" stroke-width="0.9"/>
<path d="M614.9 180.6V182.8M612.1 180.6H617.7M612.1 182.8H617.7" stroke="#3c3c3c" stroke-width="0.9" fill="none"/>
<rect x="619.7" y="187.9" width="9" height="46.3" fill="#c5e0b4" stroke="#3c3c3c" stroke-width="0.9"/>
<path d="M624.2 187.6V188.2M621.4 187.6H627.0M621.4 188.2H627.0" stroke="#3c3c3c" stroke-width="0.9" fill="none"/>
<rect x="647.5" y="178.3" width="9" height="55.9" fill="#d9d9d9" stroke="#3c3c3c" stroke-width="0.9"/>
<path d="M652.0 175.1V181.4M649.2 175.1H654.8M649.2 181.4H654.8" stroke="#3c3c3c" stroke-width="0.9" fill="none"/>
<rect x="656.7" y="181.3" width="9" height="52.9" fill="#c5e0b4" stroke="#3c3c3c" stroke-width="0.9"/>
<path d="M661.2 180.9V181.7M658.4 180.9H664.0M658.4 181.7H664.0" stroke="#3c3c3c" stroke-width="0.9" fill="none"/>
<line x1="564.5" y1="173.1" x2="564.5" y2="234.2" stroke="#3c3c3c" stroke-width="1"/>
<line x1="564.5" y1="234.2" x2="675.3" y2="234.2" stroke="#3c3c3c" stroke-width="1"/>
<line x1="564.5" y1="234.2" x2="567.3" y2="234.2" stroke="#3c3c3c" stroke-width="0.9"/>
<text x="555.6" y="238.0" text-anchor="end" font-family="'Liberation Serif', serif" font-size="11.5" fill="#1a1a1a">0</text>
<line x1="564.5" y1="213.8" x2="567.3" y2="213.8" stroke="#3c3c3c" stroke-width="0.9"/>
<text x="555.6" y="217.6" text-anchor="end" font-family="'Liberation Serif', serif" font-size="11.5" fill="#1a1a1a">150</text>
<line x1="564.5" y1="193.5" x2="567.3" y2="193.5" stroke="#3c3c3c" stroke-width="0.9"/>
<text x="555.6" y="197.3" text-anchor="end" font-family="'Liberation Serif', serif" font-size="11.5" fill="#1a1a1a">300</text>
<line x1="564.5" y1="173.1" x2="567.3" y2="173.1" stroke="#3c3c3c" stroke-width="0.9"/>
<text x="555.6" y="176.9" text-anchor="end" font-family="'Liberation Serif', serif" font-size="11.5" fill="#1a1a1a">450</text>
<line x1="601.6" y1="230.8" x2="601.6" y2="234.2" stroke="#3c3c3c" stroke-width="0.9"/>
<line x1="638.6" y1="230.8" x2="638.6" y2="234.2" stroke="#3c3c3c" stroke-width="0.9"/>
<line x1="675.3" y1="230.8" x2="675.3" y2="234.2" stroke="#3c3c3c" stroke-width="0.9"/>
<text x="582.2" y="251.1" text-anchor="middle" font-family="'Liberation Serif', serif" font-size="11.8" fill="#1a1a1a">R1</text>
<text x="619.4" y="251.1" text-anchor="middle" font-family="'Liberation Serif', serif" font-size="11.8" fill="#1a1a1a">R2</text>
<text x="656.2" y="251.1" text-anchor="middle" font-family="'Liberation Serif', serif" font-size="11.8" fill="#1a1a1a">R3</text>
<text x="607.4" y="264.8" text-anchor="middle" font-family="'Liberation Serif', serif" font-size="11.5" fill="#1a1a1a">Concrete generation</text>
<text transform="translate(530.9,210.2) rotate(-90)" text-anchor="middle" font-family="'Liberation Serif', serif" font-size="11.3" fill="#1a1a1a">Shrinkage, µm</text>
<rect x="568.1" y="163" width="6.1" height="5.7" fill="#d9d9d9" stroke="#3c3c3c" stroke-width="0.9"/>
<text x="576.4" y="169" font-family="'Liberation Serif', serif" font-size="11.4" fill="#1a1a1a">C-100</text>
<rect x="615.9" y="163" width="5.4" height="5.5" fill="#c5e0b4" stroke="#3c3c3c" stroke-width="0.9"/>
<text x="624.2" y="169" font-family="'Liberation Serif', serif" font-size="11" fill="#1a1a1a">E-100</text>
<rect x="415.0" y="32.0" width="267.6" height="236.8" fill="none" stroke="#565656" stroke-width="1.9"/>
<line x1="415.0" y1="84.6" x2="418.8" y2="84.6" stroke="#565656" stroke-width="1.4"/>
<line x1="415.0" y1="137.2" x2="418.8" y2="137.2" stroke="#565656" stroke-width="1.4"/>
<line x1="415.0" y1="189.8" x2="418.8" y2="189.8" stroke="#565656" stroke-width="1.4"/>
<line x1="415.0" y1="242.4" x2="418.8" y2="242.4" stroke="#565656" stroke-width="1.4"/>
<text x="401.3" y="36.4" text-anchor="end" font-family="'Liberation Serif', serif" font-size="15" fill="#1a1a1a">0</text>
<text x="401.3" y="89.0" text-anchor="end" font-family="'Liberation Serif', serif" font-size="15" fill="#1a1a1a">200</text>
<text x="401.3" y="141.6" text-anchor="end" font-family="'Liberation Serif', serif" font-size="15" fill="#1a1a1a">400</text>
<text x="401.3" y="194.2" text-anchor="end" font-family="'Liberation Serif', serif" font-size="15" fill="#1a1a1a">600</text>
<text x="401.3" y="246.8" text-anchor="end" font-family="'Liberation Serif', serif" font-size="15" fill="#1a1a1a">800</text>
<text x="410.5" y="283.3" text-anchor="middle" font-family="'Liberation Serif', serif" font-size="15" fill="#1a1a1a">0</text>
<text x="431.0" y="283.3" text-anchor="middle" font-family="'Liberation Serif', serif" font-size="15" fill="#1a1a1a">7</text>
<text x="492.4" y="283.3" text-anchor="middle" font-family="'Liberation Serif', serif" font-size="15" fill="#1a1a1a">28</text>
<text x="553.8" y="283.3" text-anchor="middle" font-family="'Liberation Serif', serif" font-size="15" fill="#1a1a1a">49</text>
<text x="615.2" y="283.3" text-anchor="middle" font-family="'Liberation Serif', serif" font-size="15" fill="#1a1a1a">70</text>
<text x="676.6" y="283.3" text-anchor="middle" font-family="'Liberation Serif', serif" font-size="15" fill="#1a1a1a">91</text>
<text transform="translate(364.4,149.4) rotate(-90)" text-anchor="middle" font-family="'Liberation Sans', sans-serif" font-weight="bold" font-size="15.5" fill="#000">Drying shrinkage, µm</text>
<text x="549.4" y="309.8" text-anchor="middle" font-family="'Liberation Sans', sans-serif" font-weight="bold" font-size="15.1" fill="#000">Time [days]</text>
<text x="548.8" y="335.3" text-anchor="middle" font-family="'Liberation Serif', serif" font-weight="bold" font-size="16.5" fill="#000">(b)</text>
</svg>
</body></html>
